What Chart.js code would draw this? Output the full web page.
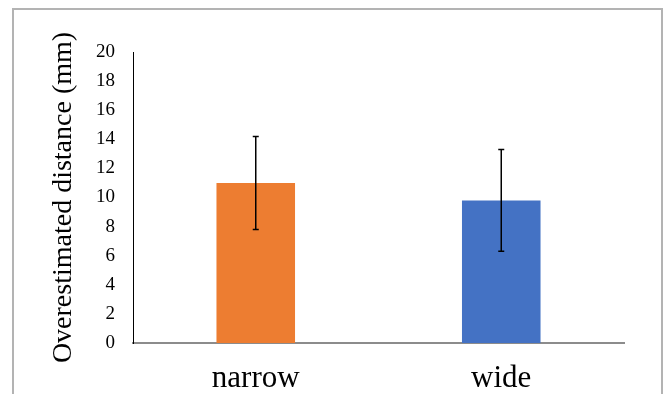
<!DOCTYPE html>
<html lang="en">
<head>
<meta charset="UTF-8">
<title>Overestimated distance</title>
<script src="https://cdn.jsdelivr.net/npm/chart.js"></script>
<style>
    body {
        margin: 0;
        background: #fff;
        width: 663px;
        height: 394px;
        overflow: hidden;
        position: relative;
    }
    .frame {
        position: absolute;
        left: 12px;
        top: 8px;
        width: 647px;
        height: 400px;
        border: 2px solid #b3b3b3;
        border-bottom: none;
    }
    .wrap {
        position: absolute;
        left: 0;
        top: 0;
        width: 663px;
        height: 394px;
    }
</style>
</head>
<body>
<div class="frame"></div>
<div class="wrap"><canvas id="chart"></canvas></div>

<script>
const categories = ['narrow', 'wide'];
const means = [11.0, 9.8];
const errors = [3.2, 3.5];
const barColors = ['#ED7D31', '#4472C4'];
const yTicks = [0, 2, 4, 6, 8, 10, 12, 14, 16, 18, 20];

// error bars drawn from the means/errors arrays through the scales
const errorBars = {
    id: 'errorBars',
    afterDatasetsDraw(chart) {
        const ctx = chart.ctx;
        const x = chart.scales.x, y = chart.scales.y;
        ctx.save();
        ctx.strokeStyle = '#000';
        ctx.lineWidth = 1.5;
        means.forEach((m, i) => {
            const px = x.getPixelForValue(i);
            const top = y.getPixelForValue(m + errors[i]);
            const bot = y.getPixelForValue(m - errors[i]);
            ctx.beginPath();
            ctx.moveTo(px, top); ctx.lineTo(px, bot);
            ctx.moveTo(px - 3, top); ctx.lineTo(px + 3, top);
            ctx.moveTo(px - 3, bot); ctx.lineTo(px + 3, bot);
            ctx.stroke();
        });
        ctx.restore();
    }
};

new Chart(document.getElementById('chart'), {
    type: 'bar',
    data: {
        labels: categories,
        datasets: [{
            data: means,
            backgroundColor: barColors,
            barPercentage: 0.32,
            categoryPercentage: 1
        }]
    },
    options: {
        responsive: true,
        maintainAspectRatio: false,
        animation: false,
        layout: {padding: {left: 40, top: 52, right: 39, bottom: 0}},
        plugins: {legend: {display: false}, tooltip: {enabled: false}},
        scales: {
            x: {
                grid: {display: false, drawTicks: false},
                border: {display: true, color: '#8c8c8c', width: 2},
                ticks: {
                    color: '#000',
                    padding: 17,
                    font: {family: 'Liberation Serif', size: 31}
                },
                afterFit(scale) { scale.height = 51; }
            },
            y: {
                min: 0,
                max: 20,
                afterBuildTicks(scale) { scale.ticks = yTicks.map(v => ({value: v})); },
                grid: {display: false, drawTicks: false},
                border: {display: true, color: '#000', width: 1},
                ticks: {
                    color: '#000',
                    padding: 18,
                    font: {family: 'Liberation Serif', size: 19}
                },
                title: {
                    display: true,
                    text: 'Overestimated distance (mm)',
                    color: '#000',
                    padding: {top: 7, bottom: 0},
                    font: {family: 'Liberation Serif', size: 28}
                },
                afterFit(scale) { scale.width = 93; }
            }
        }
    },
    plugins: [errorBars]
});
</script>
</body>
</html>
